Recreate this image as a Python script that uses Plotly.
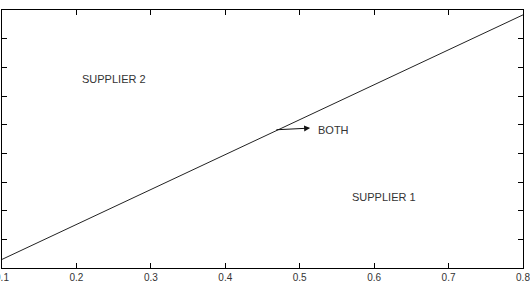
import plotly.graph_objects as go

# Boundary line between the two supplier regions
line_x = [0.1, 0.8]
line_y = [0.03, 0.883]

# Region labels
label_text = ["SUPPLIER 2", "BOTH", "SUPPLIER 1"]
label_x = [0.2505, 0.545, 0.613]
label_y = [0.659, 0.481, 0.248]

# Arrow from the boundary line toward "BOTH"
arrow_tail = (0.4666, 0.482)
arrow_head = (0.514, 0.488)

x_ticks = [0.1, 0.2, 0.3, 0.4, 0.5, 0.6, 0.7, 0.8]
y_ticks = [0.0, 0.1, 0.2, 0.3, 0.4, 0.5, 0.6, 0.7, 0.8, 0.9]

fig = go.Figure()
fig.add_trace(go.Scatter(x=line_x, y=line_y, mode="lines",
                         line=dict(color="#222222", width=1), showlegend=False,
                         hoverinfo="skip"))

font = dict(family="Liberation Sans, Arial, sans-serif", size=11, color="#333333")
for t, x, y in zip(label_text, label_x, label_y):
    fig.add_annotation(x=x, y=y, text=t, showarrow=False, font=font,
                       xanchor="center", yanchor="middle")

fig.add_annotation(x=arrow_head[0], y=arrow_head[1], ax=arrow_tail[0], ay=arrow_tail[1],
                   axref="x", ayref="y", xref="x", yref="y", text="",
                   showarrow=True, arrowhead=2, arrowsize=1.2, arrowwidth=1,
                   arrowcolor="#111111", standoff=0, startstandoff=0)

axis_common = dict(showline=True, linecolor="black", linewidth=1, mirror="ticks",
                   ticks="inside", ticklen=5, tickcolor="black", tickwidth=1,
                   showgrid=False, zeroline=False, automargin=False)

fig.update_xaxes(range=[0.1, 0.8], tickvals=x_ticks,
                 ticktext=[f"{v:.1f}" for v in x_ticks],
                 tickfont=dict(family="Liberation Sans, Arial, sans-serif", size=10, color="#333333"),
                 ticklabeloverflow="allow", **axis_common)
fig.update_yaxes(range=[0.0, 0.9], tickvals=y_ticks, showticklabels=False, **axis_common)

fig.update_layout(width=530, height=283, margin=dict(l=2, r=7, t=10, b=15),
                  plot_bgcolor="white", paper_bgcolor="white")

fig.write_html("out.html")
